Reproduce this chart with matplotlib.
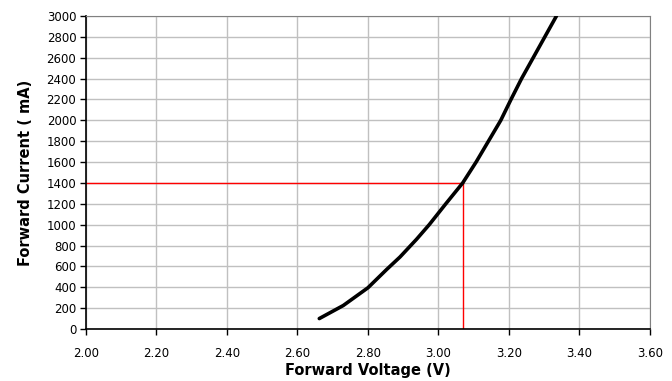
import numpy as np
import matplotlib.pyplot as plt

voltage = [2.662, 2.730, 2.800, 2.853, 2.891, 2.938, 2.974, 3.021, 3.069,
           3.107, 3.142, 3.177, 3.206, 3.236, 3.269, 3.302, 3.335]
current = [100, 225, 395, 570, 690, 860, 1000, 1200, 1400,
           1600, 1800, 2000, 2200, 2400, 2600, 2800, 3000]
op_v = 3.07
op_i = 1400

x_ticks = np.arange(2.0, 3.61, 0.2)
y_ticks = np.arange(0, 3001, 200)

fig = plt.figure(figsize=(6.72, 3.81), dpi=100)
ax = fig.add_axes([0.128, 0.1365, 0.839, 0.8215])

ax.plot(voltage, current, color="black", lw=2.6, solid_capstyle="round",
        solid_joinstyle="round", zorder=3)
ax.plot([2.0, op_v], [op_i, op_i], color="#ff0000", lw=1.0, zorder=2)
ax.plot([op_v, op_v], [0, op_i], color="#ff0000", lw=1.0, zorder=2)

ax.set_xlim(2.0, 3.6)
ax.set_ylim(0, 3000)
ax.set_xticks(x_ticks)
ax.set_yticks(y_ticks)
ax.set_xticklabels([f"{v:.2f}" for v in x_ticks])
ax.grid(True, color="#c0c0c0", lw=1)
ax.set_axisbelow(True)

for side in ["top", "right"]:
    ax.spines[side].set_color("#808080")
for side in ["left", "bottom"]:
    ax.spines[side].set_color("black")
    ax.spines[side].set_linewidth(1.2)

ax.tick_params(axis="both", direction="out", length=4, width=1, labelsize=8.5, colors="black")
ax.tick_params(axis="x", pad=9)
ax.tick_params(axis="y", pad=3)

ax.set_xlabel("Forward Voltage (V)", fontsize=10.5, fontweight="bold", labelpad=2)
ax.set_ylabel("Forward Current ( mA)", fontsize=10.5, fontweight="bold", labelpad=10)

fig.savefig("out.png", dpi=100)
